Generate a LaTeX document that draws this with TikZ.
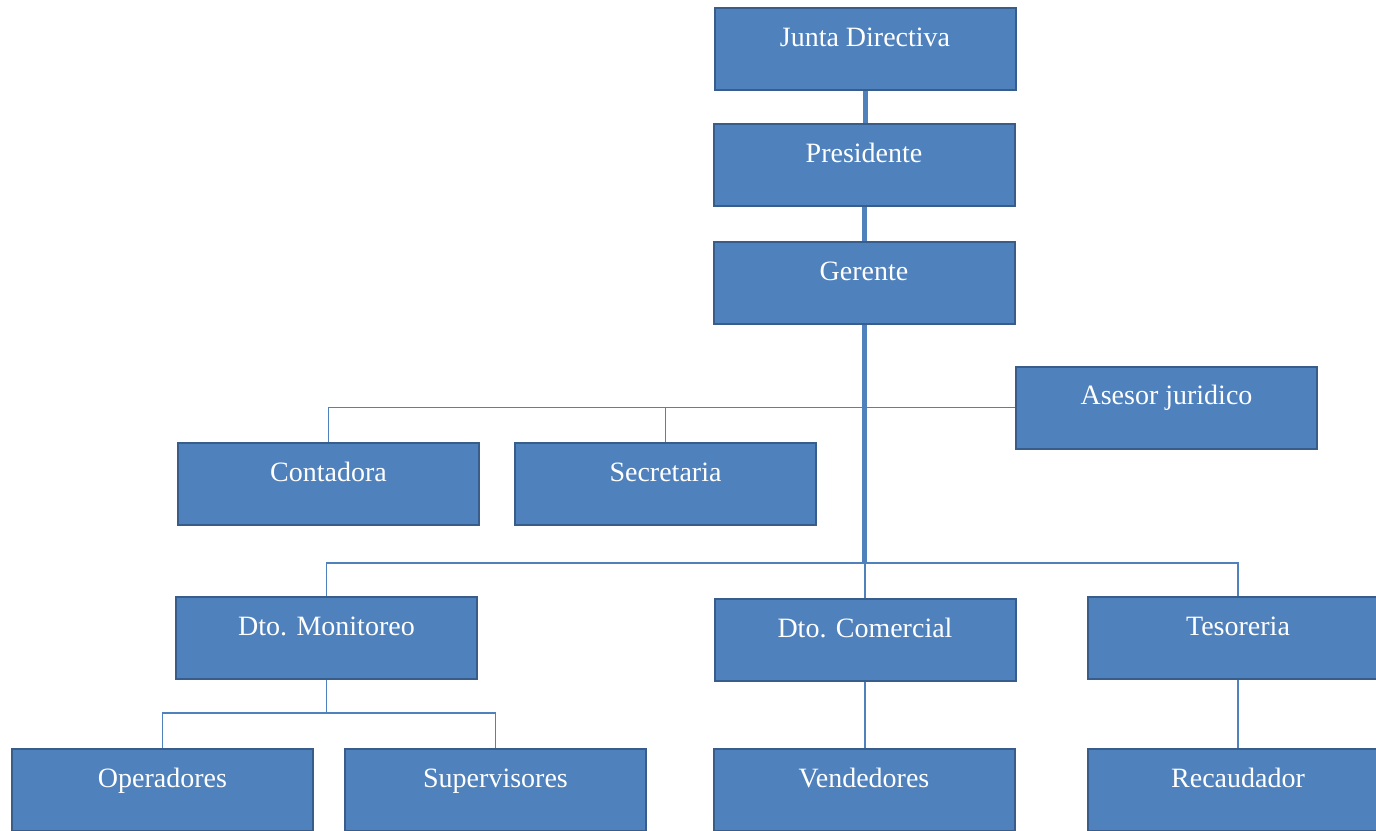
\documentclass[tikz,border=0pt]{standalone}
\usepackage{fontspec}
\setmainfont{Liberation Serif}
\definecolor{boxfill}{HTML}{4F81BD}
\definecolor{boxedge}{HTML}{385D8A}
\definecolor{linkblue}{HTML}{4F81BD}
\begin{document}
\begin{tikzpicture}[x=1pt,y=-1pt,
  unit/.style={draw=boxedge,line width=2pt,fill=boxfill,rectangle,
    minimum width=301pt,minimum height=82pt,inner xsep=4pt,inner ysep=9pt,
    text height=29pt,text depth=35pt,text=white,font=\fontsize{28}{30}\selectfont},
  thinlink/.style={draw=linkblue,line width=1.6pt},
  trunk/.style={draw=linkblue,line width=5pt}]
\useasboundingbox (0,0) rectangle (1376,830);
\clip (0,0) rectangle (1376,830);

% boxes
\node[unit] (jd)   at (865,49)    {Junta Directiva};
\node[unit] (pres) at (864,165)   {Presidente};
\node[unit] (ger)  at (864,283)   {Gerente};
\node[unit] (ases) at (1166.5,407.5) {Asesor juridico};
\node[unit] (cont) at (328.5,484) {Contadora};
\node[unit] (secr) at (665.5,484) {Secretaria};
\node[unit] (mon)  at (326.5,638) {Dto. Monitoreo};
\node[unit] (com)  at (865,640)   {Dto. Comercial};
\node[unit] (tes)  at (1238,638)  {Tesoreria};
\node[unit] (oper) at (162.5,790) {Operadores};
\node[unit] (sup)  at (495.5,790) {Supervisores};
\node[unit] (vend) at (864,790)   {Vendedores};
\node[unit] (rec)  at (1238,790)  {Recaudador};

% junction points
\coordinate (bus1) at (864,407.5);
\coordinate (bus2) at (864,563);
\coordinate (bus3) at (326.5,713);

% thin branches
\draw[thinlink] (cont.north) |- (ases.west);
\draw[thinlink] (secr.north) -- (secr.north |- bus1);
\draw[thinlink] (mon.north) |- (bus2) -| (tes.north);
\draw[thinlink] (com.north) -- (com.north |- bus2);
\draw[thinlink] (mon.south) -- (bus3);
\draw[thinlink] (oper.north) |- (bus3) -| (sup.north);
\draw[thinlink] (com.south) -- (com.south |- vend.north);
\draw[thinlink] (tes.south) -- (rec.north);

% main line of command
\draw[trunk] (jd.south) -- (jd.south |- pres.north);
\draw[trunk] (pres.south) -- (ger.north);
\draw[trunk] (ger.south) -- (bus2);
\end{tikzpicture}
\end{document}
